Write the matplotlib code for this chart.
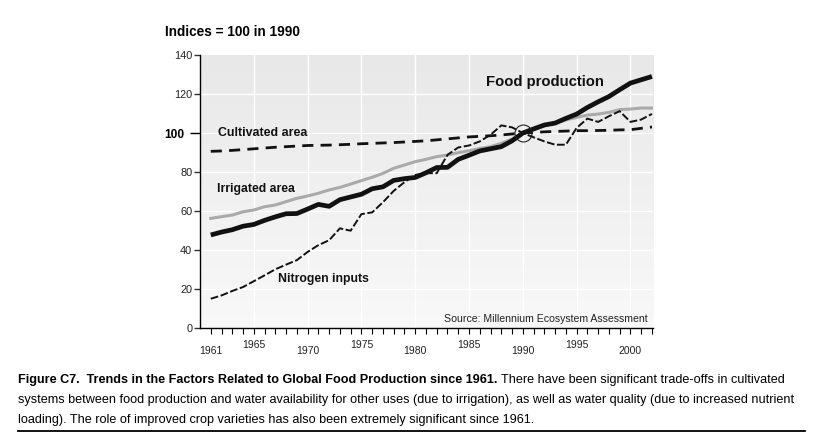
import numpy as np
import matplotlib.pyplot as plt
from matplotlib.lines import Line2D

plt.rcParams["font.family"] = ["Liberation Sans", "DejaVu Sans"]

# Dados (índices = 100 em 1990)
anos = list(range(1961, 2003))

producao_alimentos = [47.7, 49.2, 50.4, 52.2, 53.1, 55.2, 57.0, 58.6, 58.7, 61.0,
                      63.4, 62.4, 65.8, 67.2, 68.6, 71.4, 72.4, 75.7, 76.6, 77.2,
                      79.6, 82.3, 82.4, 86.5, 88.6, 90.8, 91.9, 93.0, 96.0, 100.0,
                      102.1, 104.1, 105.1, 107.5, 109.7, 113.1, 116.0, 118.7, 122.2, 125.6,
                      127.3, 129.0]

area_irrigada = [56.2, 57.1, 57.9, 59.6, 60.5, 62.2, 63.1, 64.8, 66.5, 67.7,
                 69.1, 70.8, 72.1, 73.8, 75.6, 77.3, 79.3, 81.9, 83.6, 85.3,
                 86.5, 87.9, 88.7, 89.9, 90.9, 92.1, 93.0, 94.7, 96.9, 100.0,
                 101.7, 103.7, 105.1, 106.7, 108.0, 109.2, 109.7, 110.6, 112.0, 112.3,
                 112.8, 112.8]

area_cultivada = [90.6, 90.8, 91.1, 91.5, 91.9, 92.3, 92.7, 93.0, 93.3, 93.6,
                  93.7, 93.8, 94.0, 94.2, 94.5, 94.7, 94.9, 95.1, 95.4, 95.7,
                  96.0, 96.5, 97.0, 97.5, 98.0, 98.3, 98.6, 99.0, 99.5, 100.0,
                  100.3, 100.6, 100.8, 101.0, 101.2, 101.2, 101.3, 101.4, 101.6, 101.7,
                  102.4, 103.1]

nitrogenio = [15.0, 16.7, 19.0, 21.0, 24.0, 27.0, 30.1, 32.5, 34.8, 39.0,
              42.5, 45.0, 51.1, 49.9, 58.4, 59.3, 64.5, 70.3, 74.8, 78.5,
              79.4, 79.4, 88.8, 92.6, 93.6, 95.7, 99.1, 103.9, 102.9, 100.0,
              97.8, 95.7, 94.0, 94.0, 102.6, 107.4, 105.7, 108.6, 111.2, 105.7,
              106.9, 109.8]

anos_rotulo = [1961, 1965, 1970, 1975, 1980, 1985, 1990, 1995, 2000]
y_ticks = [0, 20, 40, 60, 80, 120, 140]

fig = plt.figure(figsize=(8.17, 4.43), dpi=100)
ax = fig.add_axes([0.2448, 0.2596, 0.5545, 0.6162])

# Fundo em degradê cinza (mais escuro em cima)
g = np.linspace(0.91, 0.975, 256).reshape(-1, 1)
fundo = np.dstack([g, g, g])
ax.imshow(fundo, aspect="auto", extent=[1960, 2002.1, 0, 140], origin="upper", zorder=0)
ax.set_xlim(1960, 2002.1)
ax.set_ylim(0, 140)

# Grade branca
for x in range(1965, 2001, 5):
    ax.axvline(x, color="white", lw=1, zorder=1)
for y in range(20, 140, 20):
    ax.axhline(y, color="white", lw=1, zorder=1)

ax.plot(anos, area_cultivada, color="#111111", lw=2.0, ls=(0, (4, 2.6)), zorder=3)
ax.plot(anos, area_irrigada, color="#aaaaaa", lw=2.2, zorder=3)
ax.plot(anos, nitrogenio, color="#111111", lw=1.4, ls=(0, (4, 1.3)), zorder=4)
ax.plot(anos, producao_alimentos, color="#111111", lw=3.4, zorder=5,
        solid_capstyle="butt")
ax.plot([1990], [100], marker="o", ms=12.2, mfc="none", mec="#222222", mew=0.8, zorder=6)

# Rótulos das séries
ax.text(1986.6, 126, "Food production", fontsize=10.7, fontweight="bold",
        va="center", color="#111111")
ax.text(1961.7, 99.8, "Cultivated area", fontsize=8.9, fontweight="bold",
        va="center", color="#111111")
ax.text(1961.55, 71.5, "Irrigated area", fontsize=8.8, fontweight="bold",
        va="center", color="#111111")
ax.text(1967.25, 25.3, "Nitrogen inputs", fontsize=8.8, fontweight="bold",
        va="center", color="#111111")
ax.text(2001.6, 4.8, "Source: Millennium Ecosystem Assessment", fontsize=7.6,
        ha="right", va="center", color="#222222")

# Eixos
for s in ["top", "right"]:
    ax.spines[s].set_visible(False)
ax.spines["left"].set_linewidth(1.0)
ax.spines["bottom"].set_linewidth(1.0)
ax.set_yticks(y_ticks)
ax.set_yticks([100], minor=True, labels=["100"])
ax.tick_params(axis="y", length=4.5, width=1, labelsize=7.9, pad=1, colors="#333333",
               labelcolor="#222222")
ax.tick_params(axis="y", which="minor", length=7.5, width=1, labelsize=8.6, pad=3.5,
               labelcolor="black")
for lb in ax.get_yticklabels(minor=True):
    lb.set_fontweight("bold")
ax.set_xticks(anos, minor=True)
ax.set_xticks(anos_rotulo)
ax.set_xticklabels([str(a) for a in anos_rotulo])
ax.tick_params(axis="x", which="both", length=4, width=0.8, labelsize=7.5,
               labelcolor="#222222")
for a, t in zip(anos_rotulo, ax.xaxis.get_major_ticks()):
    t.set_pad(4.3 if a % 10 == 5 else 9.1)

fig.text(165 / 817, 1 - 32 / 443, "Indices = 100 in 1990", fontsize=9.8,
         fontweight="bold", va="center")

# Legenda da figura
x0 = 18 / 817
tam = 9.1
t1 = fig.text(x0, 1 - 380 / 443, "Figure C7.  Trends in the Factors Related to Global Food Production since 1961.",
              fontsize=tam, fontweight="bold", va="center")
fig.canvas.draw()
bb = t1.get_window_extent().transformed(fig.transFigure.inverted())
fig.text(bb.x1 + 0.004, 1 - 380 / 443, "There have been significant trade-offs in cultivated",
         fontsize=tam, va="center")
fig.text(x0, 1 - 400 / 443, "systems between food production and water availability for other uses (due to irrigation), as well as water quality (due to increased nutrient",
         fontsize=tam, va="center")
fig.text(x0, 1 - 420 / 443, "loading). The role of improved crop varieties has also been extremely significant since 1961.",
         fontsize=tam, va="center")
fig.add_artist(Line2D([18 / 817, 805 / 817], [1 - 431 / 443] * 2, color="black", lw=1.3,
                      transform=fig.transFigure))

fig.savefig("out.png", dpi=100)
